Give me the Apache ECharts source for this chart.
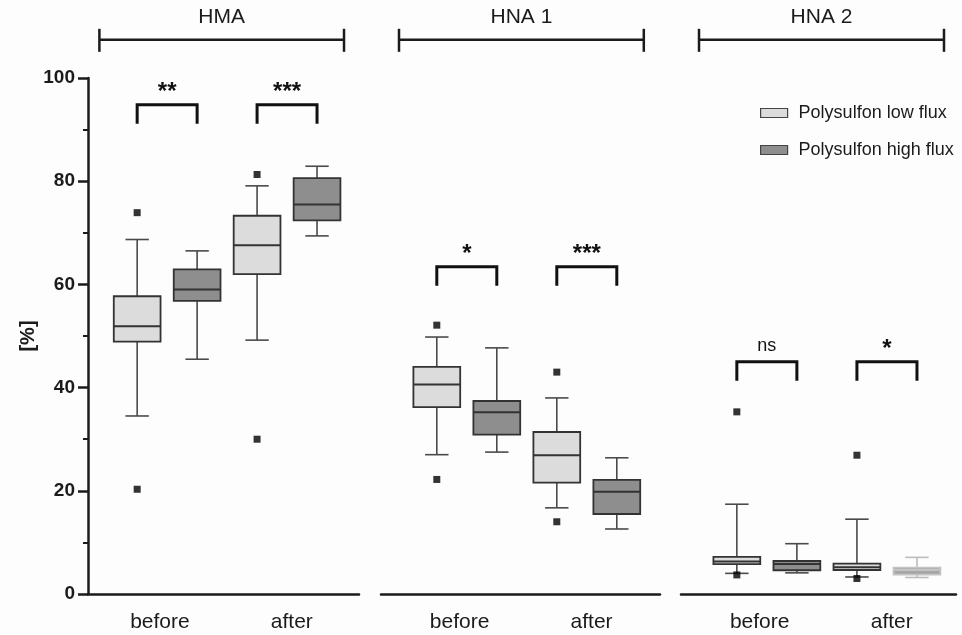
<!DOCTYPE html>
<html>
<head>
<meta charset="utf-8">
<title>Polysulfon low / high flux</title>
<script src="https://cdn.jsdelivr.net/npm/echarts@6/dist/echarts.min.js"></script>
<style>
  html, body { margin: 0; padding: 0; background: #fdfdfd; }
  #chart { width: 962px; height: 635px; }
</style>
</head>
<body>
<div id="chart"></div>
<script>
// panels and time points
const panels = ['HMA', 'HNA 1', 'HNA 2']
const phases = ['before', 'after']

// box stats per phase: [min, Q1, median, Q3, max]
const hmaLow = [[34.5, 48.9, 51.9, 57.7, 68.7], [49.2, 62.0, 67.6, 73.3, 79.1]]
const hmaHigh = [[45.5, 56.8, 59.0, 62.9, 66.5], [69.4, 72.4, 75.5, 80.6, 82.9]]
const hna1Low = [[27.0, 36.2, 40.6, 44.0, 49.8], [16.7, 21.6, 26.9, 31.4, 38.0]]
const hna1High = [[27.5, 30.9, 35.2, 37.4, 47.7], [12.6, 15.5, 19.8, 22.1, 26.4]]
const hna2Low = [[4.0, 5.8, 6.3, 7.2, 17.4], [3.3, 4.65, 5.2, 5.9, 14.5]]
const hna2High = [[4.1, 4.6, 5.8, 6.4, 9.75], [3.2, 3.75, 4.65, 5.1, 7.1]]

// outliers of the low flux boxes, per phase
const hmaOutliers = [[73.9, 20.3], [81.3, 30.0]]
const hna1Outliers = [[52.1, 22.2], [43.0, 14.0]]
const hna2Outliers = [[35.3, 3.7], [26.9, 3.0]]

// significance between low and high flux, per phase
const hmaSig = ['**', '***']
const hna1Sig = ['*', '***']
const hna2Sig = ['ns', '*']
const sigLevels = [94.8, 63.4, 45.0]

// y axis
const yTicks = [0, 20, 40, 60, 80, 100]

const lowStats = [hmaLow, hna1Low, hna2Low]
const highStats = [hmaHigh, hna1High, hna2High]
const outliers = [hmaOutliers, hna1Outliers, hna2Outliers]
const sigLabels = [hmaSig, hna1Sig, hna2Sig]

const FONT = '"Liberation Sans", Arial, sans-serif'
const INK = '#1b1b1b'
const LOW_NAME = 'Polysulfon low flux'
const HIGH_NAME = 'Polysulfon high flux'

// layout of the three panels (x in box slots, one slot = one box)
const gridLeft = [88, 381, 681]
const gridWidth = [271, 279, 275]
const xMin = [-0.82, -0.93, -0.93]
const xMax = [3.7, 3.72, 3.65]

function boxItem (fill, stroke, whisker) {
  return function (params, api) {
    const x = api.value(0)
    const lo = api.coord([x, api.value(1)])
    const q1 = api.coord([x, api.value(2)])
    const md = api.coord([x, api.value(3)])
    const q3 = api.coord([x, api.value(4)])
    const hi = api.coord([x, api.value(5)])
    const w = api.size([0.78, 0])[0]
    const cx = lo[0]
    const ws = { stroke: whisker, lineWidth: 1.6 }
    return {
      type: 'group',
      children: [
        { type: 'line', shape: { x1: cx, y1: q3[1], x2: cx, y2: hi[1] }, style: ws },
        { type: 'line', shape: { x1: cx, y1: q1[1], x2: cx, y2: lo[1] }, style: ws },
        { type: 'line', shape: { x1: cx - w / 4, y1: hi[1], x2: cx + w / 4, y2: hi[1] }, style: ws },
        { type: 'line', shape: { x1: cx - w / 4, y1: lo[1], x2: cx + w / 4, y2: lo[1] }, style: ws },
        { type: 'rect', shape: { x: cx - w / 2, y: q3[1], width: w, height: q1[1] - q3[1] }, style: { fill: fill, stroke: stroke, lineWidth: 1.8 } },
        { type: 'line', shape: { x1: cx - w / 2, y1: md[1], x2: cx + w / 2, y2: md[1] }, style: { stroke: stroke, lineWidth: 2 } }
      ]
    }
  }
}

function bracketItem (labels) {
  return function (params, api) {
    const a = api.coord([api.value(0), api.value(2)])
    const b = api.coord([api.value(1), api.value(2)])
    const text = labels[params.dataIndex]
    const isStar = text.indexOf('*') >= 0
    return {
      type: 'group',
      children: [
        { type: 'polyline', shape: { points: [[a[0], a[1] + 19], [a[0], a[1]], [b[0], b[1]], [b[0], b[1] + 19]] }, style: { stroke: '#111', lineWidth: 3, fill: null } },
        {
          type: 'text',
          x: (a[0] + b[0]) / 2,
          y: a[1] - (isStar ? 0 : 7),
          style: { text: text, align: 'center', verticalAlign: 'bottom', fill: '#111', font: isStar ? 'bold 24px ' + FONT : '18px ' + FONT }
        }
      ]
    }
  }
}

function headerItem (name) {
  return function (params, api) {
    const a = api.coord([api.value(0), api.value(2)])
    const b = api.coord([api.value(1), api.value(2)])
    const st = { stroke: INK, lineWidth: 2.5 }
    return {
      type: 'group',
      children: [
        { type: 'line', shape: { x1: a[0], y1: a[1], x2: b[0], y2: b[1] }, style: st },
        { type: 'line', shape: { x1: a[0], y1: a[1] - 11, x2: a[0], y2: a[1] + 12 }, style: st },
        { type: 'line', shape: { x1: b[0], y1: b[1] - 11, x2: b[0], y2: b[1] + 12 }, style: st },
        { type: 'text', x: (a[0] + b[0]) / 2, y: a[1] - 12, style: { text: name, align: 'center', verticalAlign: 'bottom', fill: INK, font: '21px ' + FONT } }
      ]
    }
  }
}

const grids = []
const xAxes = []
const yAxes = []
const series = []

panels.forEach(function (panel, p) {
  grids.push({ left: gridLeft[p], top: 78, width: gridWidth[p], height: 516 })
  xAxes.push({
    type: 'value',
    gridIndex: p,
    min: xMin[p],
    max: xMax[p],
    splitLine: { show: false },
    axisTick: { show: false },
    axisLine: { show: true, onZero: false, lineStyle: { color: INK, width: 2.5 } },
    axisLabel: {
      customValues: [0.38, 2.58],
      margin: 18,
      color: INK,
      fontSize: 21,
      fontFamily: FONT,
      formatter: function (v) { return v < 1.5 ? phases[0] : phases[1] }
    }
  })
  yAxes.push({
    type: 'value',
    gridIndex: p,
    min: 0,
    max: 100,
    interval: 20,
    show: p === 0,
    name: p === 0 ? '[%]' : '',
    nameLocation: 'middle',
    nameGap: 50,
    nameTextStyle: { fontSize: 20, fontWeight: 'bold', color: INK, fontFamily: FONT },
    splitLine: { show: false },
    axisLine: { show: true, onZero: false, lineStyle: { color: INK, width: 2.5 } },
    axisTick: { show: true, length: 10, lineStyle: { color: INK, width: 2.5 } },
    minorTick: { show: true, splitNumber: 2, length: 5, lineStyle: { color: INK, width: 2 } },
    axisLabel: {
      margin: 13,
      color: INK,
      fontSize: 19,
      fontWeight: 'bold',
      fontFamily: FONT,
      formatter: function (v) { return yTicks.indexOf(v) >= 0 ? String(v) : '' }
    }
  })

  const enc = { x: 0, y: [1, 2, 3, 4, 5] }
  series.push({
    name: LOW_NAME,
    type: 'custom',
    xAxisIndex: p,
    yAxisIndex: p,
    itemStyle: { color: '#dcdcdc', borderColor: '#333', borderWidth: 1.2 },
    encode: enc,
    renderItem: boxItem('#dcdcdc', '#333', '#4a4a4a'),
    data: lowStats[p].map(function (s, i) { return [2 * i].concat(s) })
  })
  // in HNA 2 the high flux box "after" is drawn faded
  const normalHigh = []
  const fadedHigh = []
  highStats[p].forEach(function (s, i) {
    const row = [2 * i + 1].concat(s)
    if (p === 2 && i === 1) fadedHigh.push(row)
    else normalHigh.push(row)
  })
  series.push({
    name: HIGH_NAME,
    type: 'custom',
    xAxisIndex: p,
    yAxisIndex: p,
    itemStyle: { color: '#8e8e8e', borderColor: '#333', borderWidth: 1.2 },
    encode: enc,
    renderItem: boxItem('#8e8e8e', '#333', '#4a4a4a'),
    data: normalHigh
  })
  if (fadedHigh.length) {
    series.push({
      name: HIGH_NAME,
      type: 'custom',
      xAxisIndex: p,
      yAxisIndex: p,
      itemStyle: { color: '#8e8e8e', borderColor: '#333', borderWidth: 1.2 },
      encode: enc,
      renderItem: boxItem('#a6a6a6', '#c4c4c4', '#bcbcbc'),
      data: fadedHigh
    })
  }
  const pts = []
  outliers[p].forEach(function (vals, i) {
    vals.forEach(function (v) { pts.push([2 * i, v]) })
  })
  series.push({
    name: 'outliers',
    type: 'scatter',
    xAxisIndex: p,
    yAxisIndex: p,
    symbol: 'rect',
    symbolSize: 7,
    itemStyle: { color: '#000' },
    data: pts
  })
  series.push({
    name: 'significance',
    type: 'custom',
    xAxisIndex: p,
    yAxisIndex: p,
    renderItem: bracketItem(sigLabels[p]),
    data: phases.map(function (ph, i) { return [2 * i, 2 * i + 1, sigLevels[p]] })
  })
  series.push({
    name: 'header',
    type: 'custom',
    xAxisIndex: p,
    yAxisIndex: p,
    renderItem: headerItem(panel),
    data: [[-0.63, 3.45, 107.4]]
  })
})

const chart = echarts.init(document.getElementById('chart'))
chart.setOption({
  backgroundColor: '#fdfdfd',
  animation: false,
  textStyle: { fontFamily: FONT },
  legend: {
    orient: 'vertical',
    left: 755,
    top: 99,
    itemWidth: 27,
    itemHeight: 9,
    itemGap: 19,
    icon: 'rect',
    selectedMode: false,
    textStyle: { fontSize: 18, color: INK, fontFamily: FONT, padding: [0, 0, 0, 6] },
    data: [
      { name: LOW_NAME, itemStyle: { color: '#dcdcdc', borderColor: '#444', borderWidth: 1.2 } },
      { name: HIGH_NAME, itemStyle: { color: '#8e8e8e', borderColor: '#444', borderWidth: 1.2 } }
    ]
  },
  grid: grids,
  xAxis: xAxes,
  yAxis: yAxes,
  series: series
})
</script>
</body>
</html>
